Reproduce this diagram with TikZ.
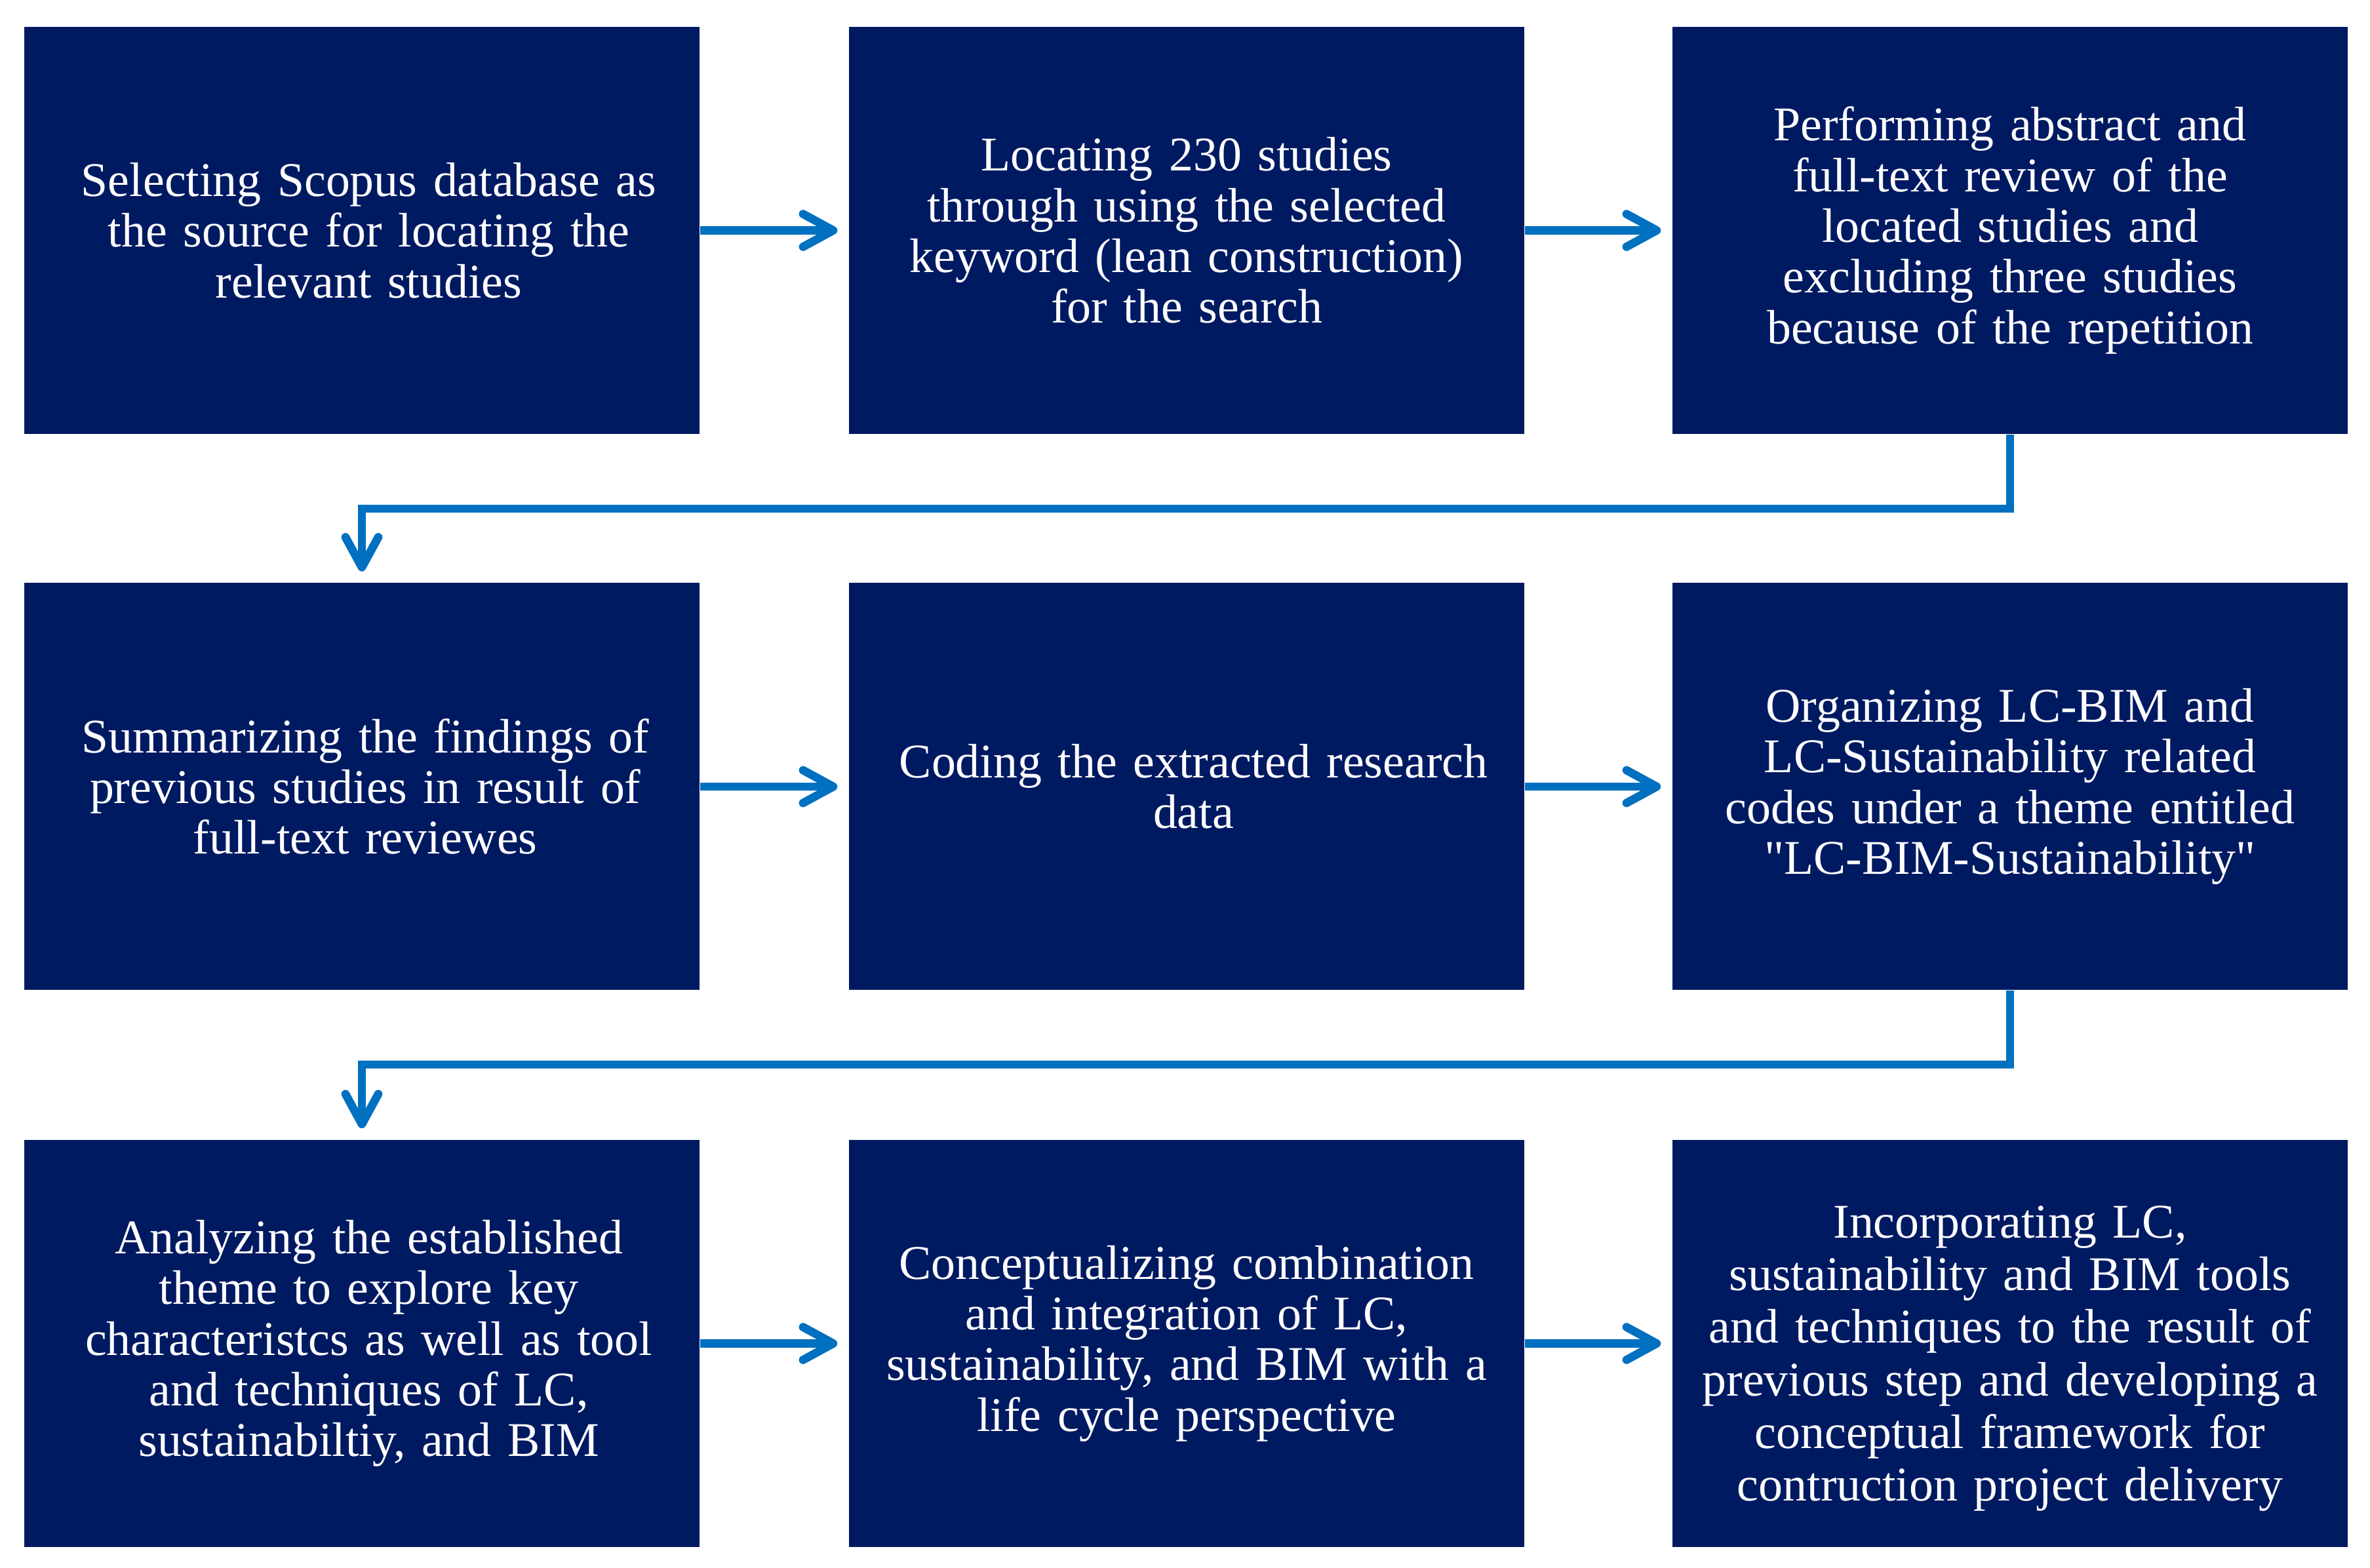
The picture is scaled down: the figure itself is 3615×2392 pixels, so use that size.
\documentclass[tikz,border=0pt]{standalone}
\usepackage{fontspec}
\setmainfont{Liberation Serif}[Ligatures=TeXOff]
\usetikzlibrary{arrows.meta,calc}
\definecolor{boxnavy}{HTML}{001A62}
\definecolor{arrblue}{HTML}{0070C0}
\begin{document}
\begin{tikzpicture}[x=0.1mm,y=-0.1mm,
  stepbox/.style={fill=boxnavy, draw=none, minimum width=103mm, minimum height=62.1mm,
    inner sep=0pt, text=white, align=center, text width=100mm,
    font=\fontsize{21}{22}\selectfont},
  arr/.style={draw=arrblue, line width=1.27mm,
    -{Straight Barb[round,length=4.6mm,width=5mm]}}]
\useasboundingbox (0,0) rectangle (3615,2392);
\node[stepbox] (b1) at (552,351.5) {\hspace*{6pt}Selecting Scopus database as\\\hspace*{6pt}the source for locating the\\\hspace*{6pt}relevant studies};
\node[stepbox] (b2) at (1810,351.5) {Locating 230 studies\\through using the selected\\keyword (lean construction)\\for the search};
\node[stepbox] (b3) at (3066,351.5) {Performing abstract and\\full-text review of the\\located studies and\\excluding three studies\\because of the repetition};
\node[stepbox] (b4) at (552,1200) {\hspace*{3pt}Summarizing the findings of\\\hspace*{3pt}previous studies in result of\\\hspace*{3pt}full-text reviewes};
\node[stepbox] (b5) at (1810,1200) {\hspace*{6pt}Coding the extracted research\\\hspace*{6pt}data};
\node[stepbox] (b6) at (3066,1200) {Organizing LC-BIM and\\LC-Sustainability related\\codes under a theme entitled\\"LC-BIM-Sustainability"};
\node[stepbox] (b7) at (552,2049.5) {\hspace*{6pt}Analyzing the established\\\hspace*{6pt}theme to explore key\\\hspace*{6pt}characteristcs as well as tool\\\hspace*{6pt}and techniques of LC,\\\hspace*{6pt}sustainabiltiy, and BIM};
\node[stepbox] (b8) at (1810,2049.5) {Conceptualizing combination\\and integration of LC,\\sustainability, and BIM with a\\life cycle perspective};
\node[stepbox, font=\fontsize{21}{22.8}\selectfont] (b9) at (3066,2049.5) {\rule{0pt}{27pt}Incorporating LC,\\sustainability and BIM tools\\and techniques to the result of\\previous step and developing a\\conceptual framework for\\contruction project delivery};
% horizontal arrows
\draw[arr] (b1.east) -- ($(b2.west)+(-17,0)$);
\draw[arr] (b2.east) -- ($(b3.west)+(-17,0)$);
\draw[arr] (b4.east) -- ($(b5.west)+(-17,0)$);
\draw[arr] (b5.east) -- ($(b6.west)+(-17,0)$);
\draw[arr] (b7.east) -- ($(b8.west)+(-17,0)$);
\draw[arr] (b8.east) -- ($(b9.west)+(-17,0)$);
% row connectors
\coordinate (m1) at (0,776);
\coordinate (m2) at (0,1624);
\draw[arr] (b3.south) -- (b3.south |- m1) -| ($(b4.north)+(0,-17)$);
\draw[arr] (b6.south) -- (b6.south |- m2) -| ($(b7.north)+(0,-17)$);
\end{tikzpicture}
\end{document}
